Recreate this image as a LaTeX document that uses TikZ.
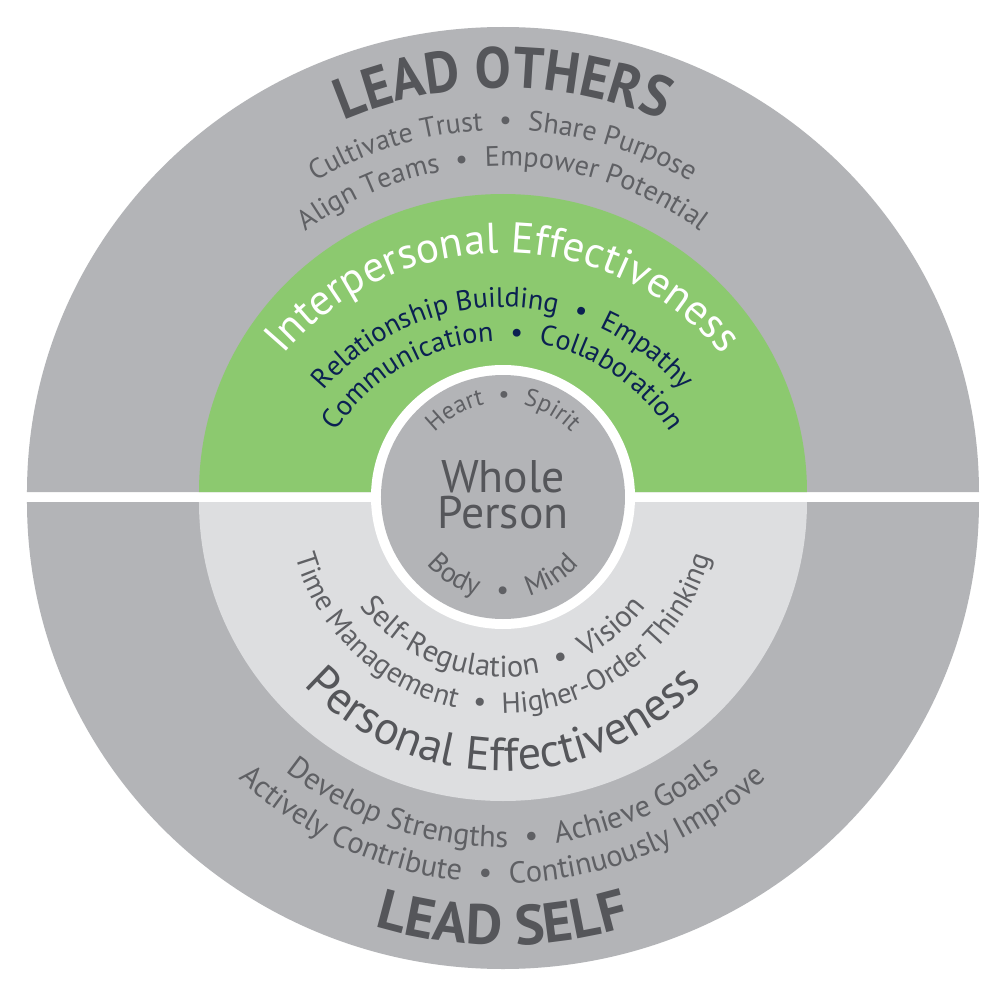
\documentclass[tikz,border=0pt]{standalone}
\usepackage{fontspec}
\setmainfont{PT Sans}
\newfontfamily\narrowfam[FakeStretch=0.93]{PT Sans}
\usetikzlibrary{decorations.text}

\definecolor{ringgray}{HTML}{B3B4B7}
\definecolor{leafgreen}{HTML}{8CC96F}
\definecolor{palegray}{HTML}{DDDEE0}
\definecolor{inkgray}{HTML}{55565A}
\definecolor{softgray}{HTML}{5F6064}
\definecolor{navyblue}{HTML}{0B2152}

\newcommand\leadfont{\fontsize{32pt}{36pt}\selectfont\bfseries}
\newcommand\othersfont{\narrowfam\fontsize{33pt}{36pt}\selectfont\bfseries}
\newcommand\headfont{\fontsize{24.5pt}{28pt}\selectfont}
\newcommand\personalfont{\fontsize{26.5pt}{30pt}\selectfont}
\newcommand\subfont{\fontsize{16pt}{19pt}\selectfont}
\newcommand\lowfont{\fontsize{17.3pt}{20pt}\selectfont}
\newcommand\timefont{\fontsize{16.5pt}{19pt}\selectfont}
\newcommand\corefont{\fontsize{14pt}{16pt}\selectfont}
\newcommand\basefont{\fontsize{16pt}{18pt}\selectfont}
\newcommand\dotsep{\kern.3em•\kern.3em}

\begin{document}
\begin{tikzpicture}[x=0.2mm,y=0.2mm,
  arctext/.style n args={3}{decorate,decoration={text along path,text align=center,
      text color=#1,text={|#2|#3}}},
  core/.style={font=\fontsize{26pt}{30pt}\selectfont,text=inkgray,anchor=base,inner sep=0pt}]
  \useasboundingbox[fill=white] (-503,-504) rectangle (498,497);
  % the two halves of the outer disc, split by a white band
  \fill[ringgray] (-476,5) arc[start angle=180,end angle=0,x radius=476,y radius=465] -- cycle;
  \fill[ringgray] (-476,-5) arc[start angle=180,end angle=360,x radius=476,y radius=467] -- cycle;
  \fill[leafgreen] (-304,5) arc[start angle=180,end angle=0,x radius=304,y radius=298] -- cycle;
  \fill[palegray] (-304,-5) arc[start angle=180,end angle=360,x radius=304,y radius=299] -- cycle;
  % whole person core
  \fill[white] (0,0) circle[radius=132];
  \fill[ringgray] (0,0) circle[radius=122];
  \node[core] (whole) at (0,5) {Whole};
  \node[core] (person) at (0,-31) {Person};
  \path[arctext={softgray}{\corefont}{Heart {\dotsep} Spirit}] (170:94) arc[start angle=170,end angle=10,radius=94];
  \path[arctext={softgray}{\basefont}{Body {\kern.15em\dotsep\kern.15em} Mind}] (190:102) arc[start angle=190,end angle=350,radius=102];
  % lead others (top)
  \path[arctext={inkgray}{\othersfont}{LEAD OTHERS}] (170:409) arc[start angle=170,end angle=10,radius=409];
  \path[arctext={softgray}{\subfont}{Cultivate Trust {\dotsep} Share Purpose}] (170:367) arc[start angle=170,end angle=10,radius=367];
  \path[arctext={softgray}{\subfont}{Align Teams {\dotsep} Empower Potential}] (170:331) arc[start angle=170,end angle=10,radius=331];
  % interpersonal effectiveness (green)
  \begin{scope}[shift={(0,-43)}]
    \path[arctext={white}{\headfont}{Interpersonal Effectiveness}] (170:287) arc[start angle=170,end angle=10,radius=287];
    \path[arctext={navyblue}{\subfont}{Relationship Building {\dotsep} Empathy}] (170:233) arc[start angle=170,end angle=10,radius=233];
    \path[arctext={navyblue}{\subfont}{Communication {\dotsep} Collaboration}] (175:199) arc[start angle=175,end angle=5,radius=199];
  \end{scope}
  % personal effectiveness and lead self (bottom)
  \path[arctext={softgray}{\lowfont}{Self-Regulation {\dotsep} Vision}] (185:180) arc[start angle=185,end angle=355,radius=180];
  \path[arctext={softgray}{\timefont}{Time Management {\dotsep} Higher-Order Thinking}] (182:216) arc[start angle=182,end angle=358,radius=216];
  \path[arctext={inkgray}{\personalfont}{Personal Effectiveness}] (190:274) arc[start angle=190,end angle=350,radius=274];
  \path[arctext={softgray}{\lowfont}{Develop Strengths {\dotsep} Achieve Goals}] (190:350) arc[start angle=190,end angle=350,radius=350];
  \path[arctext={softgray}{\lowfont}{Actively Contribute {\dotsep} Continuously Improve}] (190:386) arc[start angle=190,end angle=350,radius=386];
  \path[arctext={inkgray}{\leadfont}{LEAD SELF}] (190:448) arc[start angle=190,end angle=350,radius=448];
\end{tikzpicture}
\end{document}
